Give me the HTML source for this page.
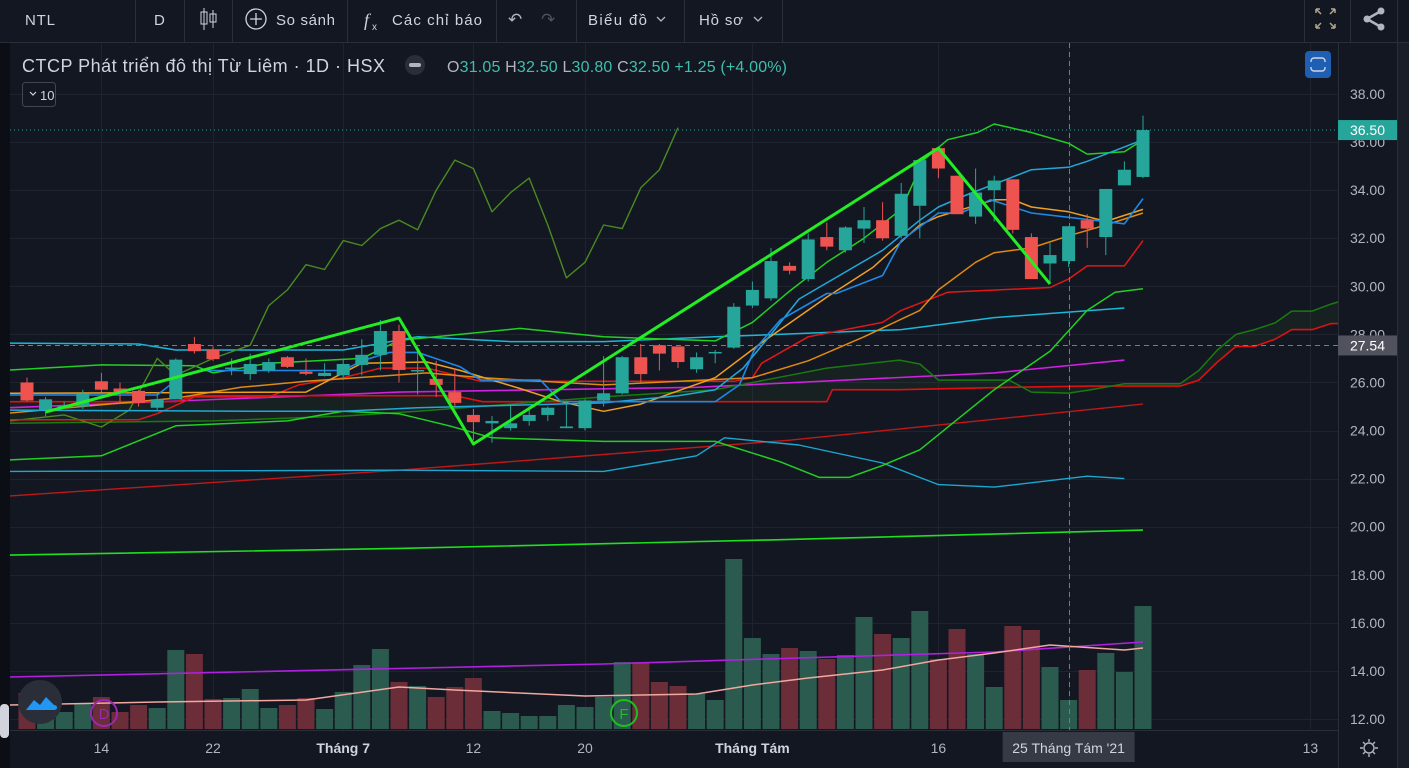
<!DOCTYPE html>
<html><head><meta charset="utf-8">
<style>
html,body{margin:0;padding:0;background:#131722;width:1409px;height:768px;overflow:hidden;font-family:"Liberation Sans","Noto Sans CJK SC",sans-serif;}
svg{display:block}
</style></head>
<body>
<svg id="c" width="1409" height="768" viewBox="0 0 1409 768" xmlns="http://www.w3.org/2000/svg">
  <rect x="0" y="0" width="1409" height="768" fill="#131722"/>
  <g id="grid"></g>
  <g id="vol"></g>
  <g id="lines"></g>
  <g id="candles"></g>
  <g id="axis"></g>
  <g id="taxis"></g>
  <!-- toolbar -->
  <g>
    <rect x="0" y="0" width="1409" height="42" fill="#131722"/>
    <line x1="0" y1="42.5" x2="1409" y2="42.5" stroke="#2a2e39"/>
    <g stroke="#2a2e39">
      <line x1="135.5" y1="0" x2="135.5" y2="42"/><line x1="184.5" y1="0" x2="184.5" y2="42"/>
      <line x1="232.5" y1="0" x2="232.5" y2="42"/><line x1="347.5" y1="0" x2="347.5" y2="42"/>
      <line x1="496.5" y1="0" x2="496.5" y2="42"/><line x1="576.5" y1="0" x2="576.5" y2="42"/>
      <line x1="684.5" y1="0" x2="684.5" y2="42"/><line x1="782.5" y1="0" x2="782.5" y2="42"/>
      <line x1="1304.5" y1="0" x2="1304.5" y2="42"/><line x1="1350.5" y1="0" x2="1350.5" y2="42"/>
      <line x1="1397.5" y1="0" x2="1397.5" y2="768"/>
    </g>
    <text x="25" y="25" fill="#d1d4dc" font-size="15" textLength="30">NTL</text>
    <text x="154" y="25" fill="#d1d4dc" font-size="15">D</text>
    <g stroke="#d1d4dc" fill="none">
      <line x1="204" y1="8" x2="204" y2="30"/><rect x="201" y="12" width="6" height="12"/>
      <line x1="213" y1="10" x2="213" y2="28"/><rect x="210" y="14" width="6" height="8"/>
    </g>
    <g>
      <circle cx="256" cy="19" r="10" fill="none" stroke="#d1d4dc" stroke-width="1.3"/>
      <path d="M256 13v12M250 19h12" stroke="#d1d4dc" stroke-width="1.3"/>
      <text x="276" y="25" fill="#d1d4dc" font-size="15" textLength="59">So sánh</text>
    </g>
    <g>
      <text x="364" y="26" fill="#d1d4dc" font-size="18" font-style="italic" font-family="Liberation Serif,serif">f</text>
      <text x="372" y="30" fill="#d1d4dc" font-size="10">x</text>
      <text x="392" y="25" fill="#d1d4dc" font-size="15" textLength="90">Các chỉ báo</text>
    </g>
    <text x="508" y="25" fill="#b2b5be" font-size="17">↶</text>
    <text x="541" y="25" fill="#50535e" font-size="17">↷</text>
    <g>
      <text x="588" y="25" fill="#d1d4dc" font-size="15" textLength="59">Biểu đồ</text>
      <path d="M657 17l4 4 4-4" stroke="#b2b5be" fill="none" stroke-width="1.3"/>
    </g>
    <g>
      <text x="699" y="25" fill="#d1d4dc" font-size="15" textLength="44">Hồ sơ</text>
      <path d="M754 17l4 4 4-4" stroke="#b2b5be" fill="none" stroke-width="1.3"/>
    </g>
    <g stroke="#b2a58f" fill="none" stroke-width="1.5">
      <path d="M1316 9l5 5M1316 9h4M1316 9v4"/><path d="M1335 9l-5 5M1335 9h-4M1335 9v4"/>
      <path d="M1316 28l5-5M1316 28h4M1316 28v-4"/><path d="M1335 28l-5-5M1335 28h-4M1335 28v-4"/>
    </g>
    <g fill="#b2b5be">
      <circle cx="1381" cy="11" r="3.5"/><circle cx="1367" cy="19" r="3.5"/><circle cx="1381" cy="27" r="3.5"/>
      <path d="M1381 11L1367 19L1381 27" stroke="#b2b5be" stroke-width="2.5" fill="none"/>
    </g>
  </g>
  <!-- legend -->
  <g>
    <text x="22" y="72" fill="#d1d4dc" font-size="18" textLength="363">CTCP Phát triển đô thị Từ Liêm · 1D · HSX</text>
    <circle cx="415" cy="65" r="10" fill="#2a2e39"/>
    <rect x="409" y="63" width="12" height="4" rx="2" fill="#b2b5be"/>
    <text x="447" y="72" font-size="16" textLength="340"><tspan fill="#b2b5be">O</tspan><tspan fill="#3fbfae">31.05 </tspan><tspan fill="#b2b5be">H</tspan><tspan fill="#3fbfae">32.50 </tspan><tspan fill="#b2b5be">L</tspan><tspan fill="#3fbfae">30.80 </tspan><tspan fill="#b2b5be">C</tspan><tspan fill="#3fbfae">32.50 +1.25 (+4.00%)</tspan></text>
    <g>
      <rect x="22.5" y="82.5" width="33" height="24" rx="3" fill="#131722" stroke="#434651"/>
      <path d="M30 92l3 3 3-3" stroke="#d1d4dc" fill="none" stroke-width="1.2"/>
      <text x="40" y="100" fill="#d1d4dc" font-size="13">10</text>
    </g>
    <g>
      <rect x="1305" y="51" width="26" height="27" rx="4" fill="#1e5fb4"/>
      <rect x="1311" y="58" width="14" height="13" rx="3" fill="none" stroke="#d1d4dc" stroke-width="1.4"/>
      <rect x="1309" y="62" width="18" height="5" fill="#1e5fb4"/>
    </g>
  </g>
  <!-- markers -->
  <g>
    <circle cx="40" cy="702" r="22" fill="#2a2e39"/>
    <path d="M26 710 l8-10 6 5 6-8 8 8 c4 0 4 5 0 5 h-28 z" fill="#2196f3"/>
  </g>
  <g>
    <circle cx="104" cy="713" r="13" fill="none" stroke="#9c27b0" stroke-width="2"/>
    <text x="104" y="719" fill="#9c27b0" font-size="15" text-anchor="middle">D</text>
  </g>
  <g>
    <circle cx="624" cy="713" r="13" fill="none" stroke="#1ec01e" stroke-width="2"/>
    <text x="624" y="719" fill="#1ec01e" font-size="15" text-anchor="middle">F</text>
  </g>
  <rect x="0" y="43" width="10" height="725" fill="#0c0e15"/>
  <rect x="0" y="704" width="9" height="34" rx="4" fill="#d1d4dc"/>
  <rect x="1398" y="43" width="11" height="725" fill="#1a1e29"/>
  <g stroke="#b2b5be" fill="none" stroke-width="1.4">
    <circle cx="1369" cy="748" r="5"/>
    <path d="M1369 739v3M1369 754v3M1360 748h3M1375 748h3M1363 742l2 2M1373 752l2 2M1375 742l-2 2M1365 752l-2 2"/>
  </g>
</svg>
<script>
// ---------- data ----------
const opens  = [26.0,24.86,24.98,25.0,26.05,25.75,25.65,24.95,25.3,27.6,27.35,26.58,26.35,26.5,27.05,26.45,26.27,26.3,26.73,27.15,28.14,26.48,26.15,25.6,24.65,24.3,24.1,24.4,24.65,24.1,24.1,25.25,25.55,27.05,27.55,27.5,26.55,27.23,27.45,29.2,29.5,30.85,30.3,32.05,31.5,32.4,32.75,32.1,33.35,35.75,34.6,32.9,34.0,34.45,32.05,30.95,31.05,32.75,32.05,34.2,34.55];
const highs  = [26.2,25.4,25.2,25.7,26.4,26.0,25.7,25.6,27.0,27.9,27.5,27.0,27.2,27.0,27.1,27.0,26.8,27.0,27.8,28.6,28.4,27.3,26.9,26.6,24.9,24.6,25.1,25.0,25.0,25.2,25.3,27.1,27.1,27.6,27.6,27.5,27.25,27.35,29.3,30.2,31.6,31.0,32.2,32.65,32.5,33.3,33.5,34.3,35.3,35.75,34.6,34.9,34.6,34.45,32.2,31.8,32.5,33.0,34.05,35.2,37.1];
const lows   = [25.2,24.6,24.9,24.9,25.6,25.1,25.0,24.85,25.3,27.2,26.9,26.3,26.1,26.4,26.6,26.3,26.25,26.1,26.3,26.5,26.0,25.5,25.4,25.0,23.6,23.5,24.0,24.2,24.4,24.1,24.0,25.0,25.5,26.0,26.5,26.6,26.4,26.8,27.4,29.1,29.4,30.5,30.2,31.5,31.4,31.8,31.9,32.0,32.0,34.5,33.0,32.6,32.7,32.2,30.3,30.1,30.8,31.6,31.3,34.2,34.5];
const closes = [25.25,25.3,25.02,25.55,25.7,25.55,25.15,25.3,26.95,27.3,26.97,26.62,26.77,26.85,26.65,26.36,26.4,26.77,27.15,28.14,26.52,26.52,25.9,25.15,24.35,24.4,24.3,24.65,24.95,24.17,25.25,25.55,27.05,26.35,27.2,26.85,27.05,27.27,29.15,29.85,31.05,30.65,31.95,31.65,32.45,32.75,32.0,33.85,35.25,34.9,33.0,33.9,34.4,32.35,30.3,31.3,32.5,32.4,34.05,34.85,36.5];
const volumes = [36,26,17,26,32,17,24,21,79,75,30,31,40,21,24,31,20,37,64,80,47,43,32,42,51,18,16,13,13,24,22,32,67,67,47,43,35,29,170,91,75,81,78,70,74,112,95,91,118,70,100,75,42,103,99,62,29,59,76,57,123]; // thousand shares
const priceTicks = [38,36,34,32,30,28,26,24,22,20,18,16,14,12];
const timeTickIdx = [4,10,17,24,30,39,49,56,69];
const timeTickLabels = ["14","22","Tháng 7","12","20","Tháng Tám","16","25 Tháng Tám '21","13"];

// indicator series (index, value) pairs
const ma200Idx=[-1,20,40,60], ma200Val=[18.82,19.1,19.45,19.86];
const ma100Idx=[-1,20,41,60], ma100Val=[21.28,22.35,23.6,25.1];
const cyanLowIdx=[-1,20,31,36,37.5,41.5,46,49,52,57,59], cyanLowVal=[22.3,22.35,22.3,22.95,23.7,23.4,22.65,21.75,21.65,22.1,22.0];
const magentaIdx=[-1,20,36,52,59], magentaVal=[24.95,25.6,25.8,26.4,26.93];
const cyanHighIdx=[-1,6,8,17,21,26,31,37,47,52,59], cyanHighVal=[27.64,27.6,27.35,27.35,27.9,27.7,27.7,27.9,28.2,28.7,29.1];
const bbLowIdx=[-1,4,8,14,17,20,22.7,25,31,37,40.5,42.6,44.2,46,48,50,52,55,57,58.5,60];
const bbLowVal=[22.78,22.95,24.2,24.4,24.8,24.7,24.2,23.7,23.55,23.55,22.7,22.05,22.05,22.55,23.2,24.45,25.7,27.3,29.0,29.75,29.9];
const bbUpIdx=[-1,4,9,10,13,18,20,26.5,31,37,39,41,43,45,47,48.2,49.5,51.1,52,54,56,57,59,60];
const bbUpVal=[26.52,26.73,26.7,26.4,26.8,27.0,27.75,28.25,27.9,27.73,28.5,29.8,31.0,32.0,33.2,35.25,36.1,36.4,36.75,36.4,35.95,35.5,35.6,36.1];
const lagIdx=[-1,2,4,5.5,7,8,10,12,13,14,15,16,17,18,19,20,21,22,23,24,25,26,27,28,29,30,31,32,33,34,35];
const lagVal=[24.4,24.65,24.15,24.85,27.0,26.3,27.0,27.55,29.2,29.85,30.9,30.7,31.9,31.7,32.4,32.75,32.35,34.0,35.25,34.9,33.1,33.9,34.5,32.55,30.35,31.0,32.55,32.4,34.1,34.85,36.6];
const maBlueIdx=[-1,7,8.2,9.3,17,18,19.5,21,23.3,24.4,27.6,28.7,37,38.3,39.1,40.5,43,43.5,46,47,49,50.2,51.8,54,59,60];
const maBlueVal=[25.48,25.48,26.2,26.5,26.5,26.9,27.25,27.25,26.65,26.1,26.1,25.2,25.2,25.9,27.35,28.6,29.7,29.7,30.45,31.9,33.05,33.05,33.6,33.05,32.6,33.65];
const maCyanIdx=[-1,12,17,21,31,35,37,38.5,40,41.5,46,48,49,50.5,54,56,57,59,60];
const maCyanVal=[24.85,24.8,24.8,24.95,25.15,25.45,25.7,26.6,28.0,29.47,31.5,32.75,33.3,33.8,34.85,34.95,35.2,35.8,36.1];
const maOrangeIdx=[-1,15,18,21.5,23.3,26.5,28.7,31,33,37,39.4,43,45.5,48,49,50.5,52,53,54,56,58,60];
const maOrangeVal=[25.55,25.6,26.8,26.85,26.5,25.75,25.2,24.8,25.1,26.2,27.6,29.55,30.8,32.55,32.9,33.25,33.6,33.6,33.3,33.1,32.7,33.2];
const maAmberIdx=[-1,8,11.5,15,21.5,24.5,31,39,42,45,48,49,51,52,54,56,58,60];
const maAmberVal=[24.73,25.35,25.8,26.05,26.4,26.2,25.9,26.2,26.9,27.9,29.0,29.85,31.0,31.4,31.6,32.1,32.55,33.05];
const maRedIdx=[-1,6,7,9,13,14.6,17,19,21.5,24.4,38,39,39.5,42,46,47,49.5,55,56,57,59,60];
const maRedVal=[24.45,24.45,24.7,25.4,25.4,25.9,26.2,26.6,26.6,26.05,26.05,26.2,26.8,27.9,28.5,29.0,29.75,29.95,30.3,30.85,30.85,31.9];
const spanBIdx=[-1,8,9,23,24.5,43,43.3,46.9,52.8,57.2,62,63,64,65,66,67.1,68,69.1,70.1,70.5];
const spanBVal=[25.2,25.2,25.45,25.45,25.2,25.2,25.7,25.7,25.8,25.85,25.85,26.1,26.85,27.5,27.5,27.8,28.2,28.2,28.45,28.45];
const spanAIdx=[-1,10,17,21,26,31,37,41,43,46.9,48,49,52.8,54,56,57.2,59,62,63,64,65,66,67.1,68,69.1,70.1,70.5];
const spanAVal=[24.3,24.4,24.6,24.8,25.1,25.4,25.7,26.3,26.6,26.93,26.77,26.1,26.1,25.6,25.56,25.7,25.95,25.95,26.5,27.35,28.0,28.2,28.48,28.97,28.97,29.26,29.35];
const zigIdx=[1,20,24,49,55], zigVal=[24.77,28.68,23.44,35.75,30.1];
const volMaIdx=[-1,7,15,20,23,30,36,39,42,46,49,52,55,59,60], volMaVal=[24,27,29,42,39,33,35,44,51,59,69,76,84,79,81];
const volMa2Idx=[-1,31,52,60], volMa2Val=[52,65,77,87];
const lastPrice = 36.5, crossPrice = 27.54, crossIdx = 56;

// ---------- axes ----------
const NS="http://www.w3.org/2000/svg";
const X0=27, STEP=18.6, PTOP=38, YTOP=94, PXU=24.04, VBASE=729, VSCALE=1;
function xOf(i){return X0+STEP*i;}
function yOf(p){return YTOP+(PTOP-p)*PXU;}
function vyOf(v){return VBASE-v*VSCALE;}
function mk(tag,attrs,parent){const e=document.createElementNS(NS,tag);for(const k in attrs)e.setAttribute(k,attrs[k]);parent.appendChild(e);return e;}
const G=id=>document.getElementById(id);

// grid
const grid=G('grid');
priceTicks.forEach(p=>{const l=mk('line',{x1:10,x2:1338,y1:Math.round(yOf(p))+0.5,y2:Math.round(yOf(p))+0.5,stroke:'#1f2330'},grid);

});
timeTickIdx.forEach(i=>{const l=mk('line',{x1:Math.round(xOf(i))+0.5,x2:Math.round(xOf(i))+0.5,y1:43,y2:730,stroke:'#1f2330'},grid);

});

// volume
const vol=G('vol');
volumes.forEach((v,i)=>{const up=closes[i]>=opens[i];
const r=mk('rect',{x:xOf(i)-8.5,y:vyOf(v),width:17,height:v*VSCALE,fill:up?'#2b5a4e':'#6b2d38'},vol);

});
function poly(idx,val,yfn,color,w,parent,name){
  const pts=idx.map((i,k)=>Math.max(10,xOf(i)).toFixed(1)+','+yfn(val[k]).toFixed(1)).join(' ');
  const e=mk('polyline',{points:pts,fill:'none',stroke:color,'stroke-width':w,'stroke-linejoin':'round'},parent);
  
  
  return e;
}
poly(volMa2Idx,volMa2Val,vyOf,'#b020e0',1.6,vol,'volume-ma-long');
poly(volMaIdx,volMaVal,vyOf,'#f0a8a0',1.5,vol,'volume-ma-short');

// cloud fill
const lines=G('lines');
(function(){const a=spanAIdx.map((i,k)=>xOf(i).toFixed(1)+','+yOf(spanAVal[k]).toFixed(1));
const b=spanBIdx.map((i,k)=>xOf(i).toFixed(1)+','+yOf(spanBVal[k]).toFixed(1)).reverse();
const e=mk('polygon',{points:a.concat(b).join(' '),fill:'rgba(60,110,40,0.12)'},lines);

})();
poly(ma200Idx,ma200Val,yOf,'#1ee01e',1.6,lines,'ma200-line');
poly(ma100Idx,ma100Val,yOf,'#c01818',1.4,lines,'ma100-line');
poly(cyanLowIdx,cyanLowVal,yOf,'#1aa8d0',1.4,lines,'lower-cyan-line');
poly(magentaIdx,magentaVal,yOf,'#d020e0',1.6,lines,'ma50-line');
poly(cyanHighIdx,cyanHighVal,yOf,'#1ab8d8',1.5,lines,'upper-cyan-line');
poly(spanBIdx,spanBVal,yOf,'#e01010',1.6,lines,'span-b-line');
poly(spanAIdx,spanAVal,yOf,'#1a7a10',1.5,lines,'span-a-line');
poly(bbLowIdx,bbLowVal,yOf,'#22d022',1.5,lines,'bollinger-lower');
poly(bbUpIdx,bbUpVal,yOf,'#22d022',1.5,lines,'bollinger-upper');
poly(lagIdx,lagVal,yOf,'#4a8a20',1.4,lines,'lagging-span');
poly(maRedIdx,maRedVal,yOf,'#e01818',1.5,lines,'ma-red');
poly(maAmberIdx,maAmberVal,yOf,'#e08a10',1.5,lines,'ma-amber');
poly(maOrangeIdx,maOrangeVal,yOf,'#f0a020',1.5,lines,'ma-orange');
poly(maCyanIdx,maCyanVal,yOf,'#22a8d8',1.5,lines,'ma-cyan');
poly(maBlueIdx,maBlueVal,yOf,'#1e88e5',1.6,lines,'ma-blue');

// candles
const cg=G('candles');
opens.forEach((o,i)=>{const c=closes[i],up=c>=o,col=up?'#26a69a':'#ef5350',x=xOf(i);
const w=mk('line',{x1:x,x2:x,y1:yOf(highs[i]),y2:yOf(lows[i]),stroke:col,'stroke-width':1},cg);


const top=yOf(Math.max(o,c)),h=Math.max(1.5,Math.abs(yOf(o)-yOf(c)));
const b=mk('rect',{x:x-6.5,y:top,width:13,height:h,fill:col},cg);

});
poly(zigIdx,zigVal,yOf,'#22ee22',3,cg,'zigzag-line');

// price lines / crosshair
const ax=G('axis');
let e=mk('line',{x1:10,x2:1338,y1:yOf(lastPrice),y2:yOf(lastPrice),stroke:'#26a69a','stroke-dasharray':'1,3'},ax);


e=mk('line',{x1:10,x2:1338,y1:Math.round(yOf(crossPrice))+0.5,y2:Math.round(yOf(crossPrice))+0.5,stroke:'#787b86','stroke-dasharray':'5,4'},ax);


e=mk('line',{x1:Math.round(xOf(crossIdx))+0.5,x2:Math.round(xOf(crossIdx))+0.5,y1:43,y2:730,stroke:'#787b86','stroke-dasharray':'5,4'},ax);


e=mk('line',{x1:1338.5,x2:1338.5,y1:43,y2:768,stroke:'#2a2e39'},ax);


e=mk('line',{x1:10,x2:1338,y1:730.5,y2:730.5,stroke:'#2a2e39'},ax);


priceTicks.forEach(p=>{const t=mk('text',{x:1385,y:yOf(p)+5,fill:'#b2b5be','font-size':14,'text-anchor':'end'},ax);
t.textContent=p.toFixed(2);

});
function tag(p,bg,name){const y=yOf(p);
const r=mk('rect',{x:1338,y:y-10,width:59,height:20,fill:bg},ax);


const t=mk('text',{x:1385,y:y+5,fill:'#ffffff','font-size':14,'text-anchor':'end'},ax);
t.textContent=p.toFixed(2);

}
tag(lastPrice,'#26a69a','last-price-tag');
tag(crossPrice,'#50535e','crosshair-price-tag');

// time axis
const ta=G('taxis');
timeTickIdx.forEach((i,k)=>{const x=xOf(i),lab=timeTickLabels[k],isCross=(i===crossIdx);
if(isCross){const r=mk('rect',{x:x-66,y:732,width:132,height:30,fill:'#363a45'},ta);

}
const bold=lab.indexOf('Tháng')===0;
const t=mk('text',{x:x,y:753,fill:isCross?'#d1d4dc':(bold?'#d1d4dc':'#b2b5be'),'font-size':14,'text-anchor':'middle','font-weight':bold?'bold':'normal'},ta);
t.textContent=lab;

});
</script>
</body></html>
